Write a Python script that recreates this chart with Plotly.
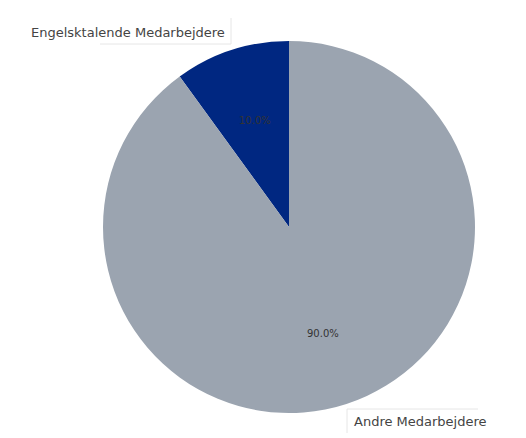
import math
import plotly.graph_objects as go

labels = ["Engelsktalende Medarbejdere", "Andre Medarbejdere"]
values = [10.0, 90.0]
colors = ["#002781", "#9ba4b0"]

W, H = 526, 438
cx, cy, r = 289, 227, 186

total = sum(values)
fig = go.Figure(go.Pie(
    labels=labels, values=values, sort=False, direction="clockwise",
    rotation=-360.0 * values[0] / total,
    marker=dict(colors=colors, line=dict(width=0)),
    textinfo="none",
    domain=dict(x=[(cx - r) / W, (cx + r) / W], y=[(H - cy - r) / H, (H - cy + r) / H]),
    showlegend=False, hoverinfo="label+percent",
))

# percentage labels at 0.6 radius, slices going counterclockwise from 12 o'clock
start = 90.0
for v in values:
    ang = math.radians(start + 180.0 * v / total)
    start += 360.0 * v / total
    px = cx + 0.6 * r * math.cos(ang)
    py = cy - 0.6 * r * math.sin(ang)
    fig.add_annotation(x=px / W, y=1 - py / H, xref="paper", yref="paper", xanchor="center", yanchor="middle",
                       text=f"{100 * v / total:.1f}%", showarrow=False,
                       font=dict(family="DejaVu Sans", size=10, color="#333333"))

fig.add_annotation(x=227 / W, y=1 - 32 / H, xref="paper", yref="paper", xanchor="right", yanchor="middle",
                   text=labels[0], showarrow=False, font=dict(family="DejaVu Sans", size=13, color="#444444"))
fig.add_annotation(x=352 / W, y=1 - 421 / H, xref="paper", yref="paper", xanchor="left", yanchor="middle",
                   text=labels[1], showarrow=False, font=dict(family="DejaVu Sans", size=13, color="#444444"))

# faint callout box edges
line_style = dict(color="#e6e6e6", width=1)
fig.add_shape(type="line", xref="paper", yref="paper", x0=231 / W, x1=231 / W, y0=1 - 18 / H, y1=1 - 44 / H, line=line_style)
fig.add_shape(type="line", xref="paper", yref="paper", x0=100 / W, x1=231 / W, y0=1 - 44 / H, y1=1 - 44 / H, line=line_style)
fig.add_shape(type="line", xref="paper", yref="paper", x0=347 / W, x1=347 / W, y0=1 - 409 / H, y1=1 - 433 / H, line=line_style)
fig.add_shape(type="line", xref="paper", yref="paper", x0=347 / W, x1=478 / W, y0=1 - 409 / H, y1=1 - 409 / H, line=line_style)

fig.update_layout(width=W, height=H, margin=dict(l=0, r=0, t=0, b=0),
                  paper_bgcolor="white", plot_bgcolor="white")
fig.write_html("out.html", config={"displayModeBar": False},
               post_script="document.body.style.margin='0';document.body.style.padding='0';")
